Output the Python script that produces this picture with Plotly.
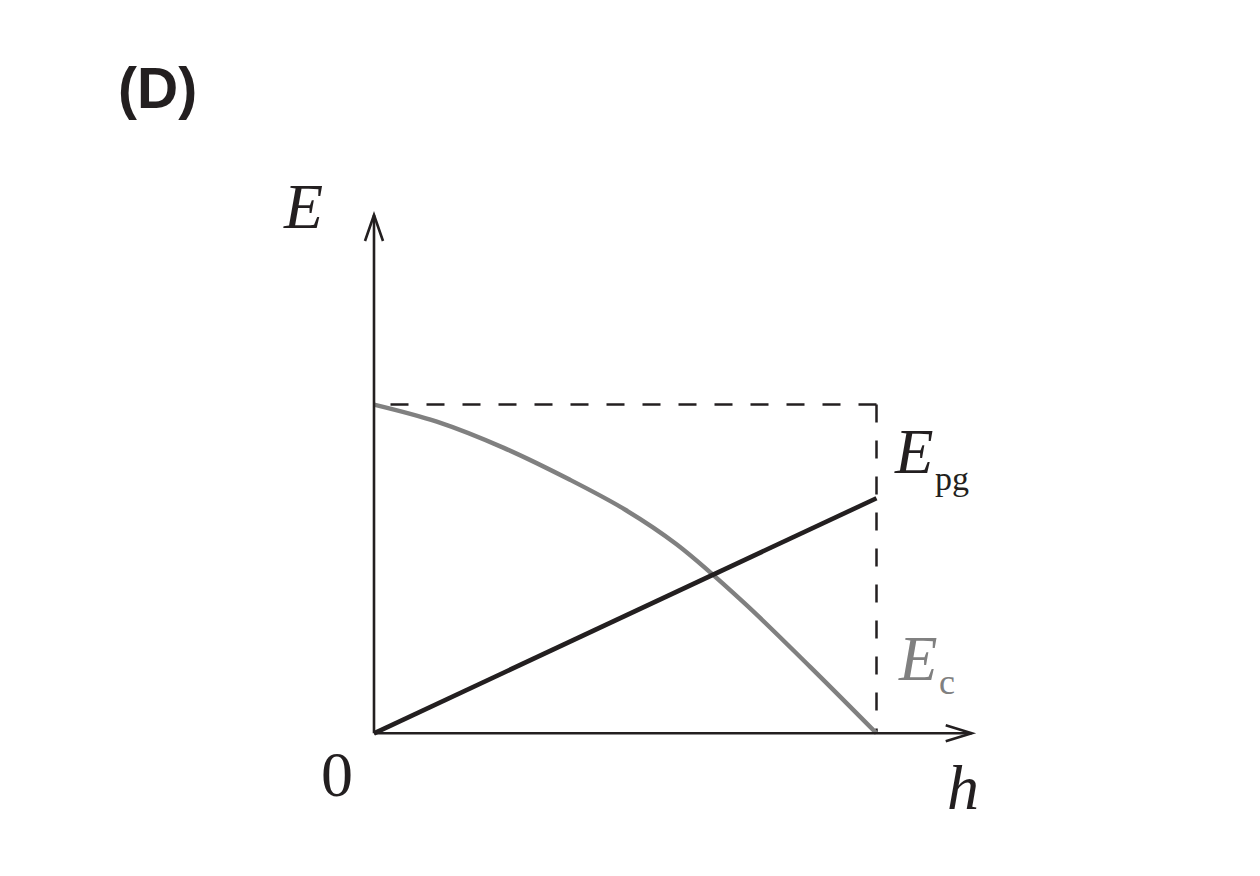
import plotly.graph_objects as go

# ---- data ----
h_pg = [0.0, 1.0]
E_pg = [0.0, 0.715]

h_c = [0.0, 0.125, 0.257, 0.390, 0.500, 0.602, 0.735, 0.868, 1.0]
E_c = [1.0, 0.948, 0.869, 0.771, 0.680, 0.575, 0.399, 0.202, 0.0]

h_max = 1.0
E_total = 1.0

X_TIP = 1.1895
Y_TIP = 1.5766

BLACK = "#231f20"
GRAY = "#808080"

W, H = 1260, 876
ML, MR, MT, MB = 330, 250, 180, 110
PW, PH = W - ML - MR, H - MT - MB

# page offset of the plot (browser body margin) and axis scale
OFF = 8
FX0, FY0 = 374 - OFF, 733.3 - OFF
SX, SY = 502.5, 328.75
X_RANGE = [(ML - FX0) / SX, (W - MR - FX0) / SX]
Y_RANGE = [(FY0 - (H - MB)) / SY, (FY0 - MT) / SY]


def px(xp):
    return (xp - OFF - ML) / PW


def py(yp):
    return (H - MB - (yp - OFF)) / PH


fig = go.Figure()

# dashed guide lines (start at the corner)
fig.add_trace(go.Scatter(x=[h_max, 0], y=[E_total, E_total], mode="lines",
                         line=dict(color=BLACK, width=2.5, dash="18px,18px"),
                         hoverinfo="skip"))
fig.add_trace(go.Scatter(x=[h_max, h_max], y=[E_total, 0], mode="lines",
                         line=dict(color=BLACK, width=2.5, dash="18px,18px"),
                         hoverinfo="skip"))

# E_c curve
fig.add_trace(go.Scatter(x=h_c, y=E_c, mode="lines",
                         line=dict(color=GRAY, width=4.4, shape="spline", smoothing=1.0),
                         hoverinfo="skip"))
# E_pg line
fig.add_trace(go.Scatter(x=h_pg, y=E_pg, mode="lines",
                         line=dict(color=BLACK, width=4.6),
                         hoverinfo="skip"))

shapes = [
    # axes
    dict(type="line", xref="x", yref="y", x0=0, y0=0, x1=X_TIP, y1=0,
         line=dict(color=BLACK, width=2.6)),
    dict(type="line", xref="x", yref="y", x0=0, y0=0, x1=0, y1=Y_TIP,
         line=dict(color=BLACK, width=2.6)),
    # arrowheads
    dict(type="path", xref="x", yref="y", xsizemode="pixel", ysizemode="pixel",
         xanchor=X_TIP, yanchor=0, path="M-26,8 L0,0 L-26,-8",
         line=dict(color=BLACK, width=2.6)),
    dict(type="path", xref="x", yref="y", xsizemode="pixel", ysizemode="pixel",
         xanchor=0, yanchor=Y_TIP, path="M-9,-26 L0,0 L9,-26",
         line=dict(color=BLACK, width=2.6)),
]

SERIF = "Liberation Serif"
ann = []


def label(text, xp, yp, size, color=BLACK, family=SERIF):
    ann.append(dict(text=text, x=px(xp), y=py(yp), xref="paper", yref="paper",
                    xanchor="center", yanchor="middle", showarrow=False,
                    font=dict(family=family, size=size, color=color)))


label("<b>(D)</b>", 157, 88, 57, family="Liberation Sans")
label("<i>E</i>", 303, 206, 64)
label("0", 337, 774, 64)
label("<i>h</i>", 963, 787, 64)
label("<i>E</i>", 913, 452, 63)
label("pg", 952, 478, 34)
label("<i>E</i>", 917, 659, 63, color=GRAY)
label("c", 947, 682, 36, color=GRAY)

fig.update_layout(
    width=W, height=H,
    margin=dict(l=ML, r=MR, t=MT, b=MB),
    paper_bgcolor="white", plot_bgcolor="white",
    showlegend=False,
    xaxis=dict(range=X_RANGE, visible=False, fixedrange=True),
    yaxis=dict(range=Y_RANGE, visible=False, fixedrange=True),
    shapes=shapes,
    annotations=ann,
)

fig.write_html("out.html")
